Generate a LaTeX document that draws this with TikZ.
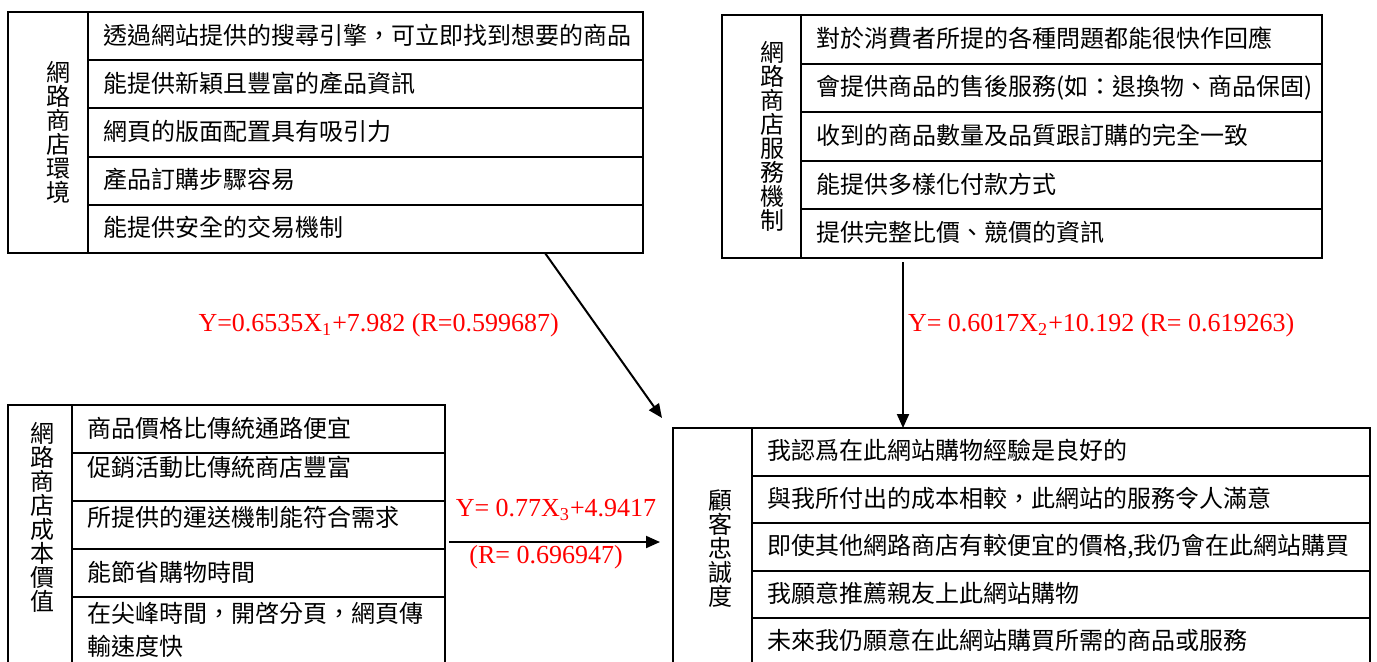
\documentclass[tikz,border=0pt]{standalone}
\usepackage{fontspec}
\setmainfont{Liberation Serif}
\newfontfamily\cjk{Noto Sans CJK TC}
\usetikzlibrary{arrows.meta,positioning}
\tikzset{
  itembox/.style = {draw, line width=1pt, outer sep=0pt, align=left, inner xsep=7.5pt, inner ysep=0pt,
                    text width=#1, text height=10pt, text depth=2pt, minimum height=24pt,
                    font=\cjk\fontsize{12pt}{14pt}\selectfont},
  sidebox/.style = {draw, line width=1pt, outer sep=0pt, align=right, inner ysep=0pt, text width=#1,
                    font=\cjk\fontsize{12pt}{12pt}\selectfont},
  link/.style    = {-{Triangle[length=7pt,width=6pt]}, line width=1pt},
  eqn/.style     = {text=red, font=\fontsize{13pt}{15pt}\selectfont},
}

\begin{document}
\begin{tikzpicture}[x=0.5pt, y=-0.5pt]
  \useasboundingbox (0,0) rectangle (1377,661);

  % Store environment
  \node[itembox=262.5pt, minimum height=24.1pt, anchor=north west] (e1) at (88,12) {透過網站提供的搜尋引擎，可立即找到想要的商品};
  \node[itembox=262.5pt, minimum height=24.1pt, below=0pt of e1] (e2) {能提供新穎且豐富的產品資訊};
  \node[itembox=262.5pt, minimum height=24.1pt, below=0pt of e2] (e3) {網頁的版面配置具有吸引力};
  \node[itembox=262.5pt, minimum height=24.1pt, below=0pt of e3] (e4) {產品訂購步驟容易};
  \node[itembox=262.5pt, minimum height=24.1pt, below=0pt of e4] (e5) {能提供安全的交易機制};
  \node[sidebox=22pt, inner xsep=9pt, minimum height=120.5pt, anchor=north east] (env) at (e1.north west) {網\\路\\商\\店\\環\\境};

  % Store service
  \node[itembox=245.5pt, minimum height=24.3pt, anchor=north west] (s1) at (801,15) {對於消費者所提的各種問題都能很快作回應};
  \node[itembox=245.5pt, minimum height=24.3pt, below=0pt of s1] (s2) {會提供商品的售後服務(如：退換物、商品保固)};
  \node[itembox=245.5pt, minimum height=24.3pt, below=0pt of s2] (s3) {收到的商品數量及品質跟訂購的完全一致};
  \node[itembox=245.5pt, minimum height=24.3pt, below=0pt of s3] (s4) {能提供多樣化付款方式};
  \node[itembox=245.5pt, minimum height=24.3pt, below=0pt of s4] (s5) {提供完整比價、競價的資訊};
  \node[sidebox=22.5pt, inner xsep=8.5pt, minimum height=121.5pt, anchor=north east] (srv) at (s1.north west) {網\\路\\商\\店\\服\\務\\機\\制};

  % Store cost value
  \node[itembox=171.5pt, anchor=north west] (c1) at (72,405) {商品價格比傳統通路便宜};
  \node[itembox=171.5pt, text depth=11pt, below=0pt of c1] (c2) {促銷活動比傳統商店豐富};
  \node[itembox=171.5pt, text depth=8.5pt, below=0pt of c2] (c3) {所提供的運送機制能符合需求};
  \node[itembox=171.5pt, below=0pt of c3] (c4) {能節省購物時間};
  \node[itembox=171.5pt, inner ysep=2.5pt, text depth=40pt, font=\cjk\fontsize{12pt}{16.5pt}\selectfont,
        below=0pt of c4] (c5) {在尖峰時間，開啓分頁，網頁傳\\輸速度快};
  \node[sidebox=15pt, inner xsep=8.5pt, inner ysep=8.5pt, text height=10pt, text depth=150pt, anchor=north east] (cst) at (c1.north west) {網\\路\\商\\店\\成\\本\\價\\值};

  % Customer loyalty
  \node[itembox=294pt, minimum height=23.75pt, anchor=north west] (f1) at (752,428) {我認爲在此網站購物經驗是良好的};
  \node[itembox=294pt, minimum height=23.75pt, below=0pt of f1] (f2) {與我所付出的成本相較，此網站的服務令人滿意};
  \node[itembox=294pt, minimum height=23.75pt, below=0pt of f2] (f3) {即使其他網路商店有較便宜的價格,我仍會在此網站購買};
  \node[itembox=294pt, minimum height=23.75pt, below=0pt of f3] (f4) {我願意推薦親友上此網站購物};
  \node[itembox=294pt, minimum height=23.75pt, below=0pt of f4] (f5) {未來我仍願意在此網站購買所需的商品或服務};
  \node[sidebox=19.5pt, inner xsep=10pt, minimum height=121pt, anchor=north east] (loy) at (f1.north west) {顧\\客\\忠\\誠\\度};

  % Regression arrows
  \coordinate (a1) at ([xshift=-49pt]e5.south east);
  \coordinate (b1) at ([shift={(-11,-10)}]loy.north west);
  \draw[link] (a1) -- (b1)
    node[eqn, pos=0.44, left=15pt] (eq1) {Y=0.6535X\textsubscript{1}+7.982 (R=0.599687)};

  \coordinate (a2) at ([shift={(102,4)}]s5.south west);
  \draw[link] (a2) -- (a2 |- loy.north)
    node[eqn, pos=0.38, right=0pt, inner xsep=2pt] (eq2) {Y= 0.6017X\textsubscript{2}+10.192 (R= 0.619263)};

  \coordinate (a3) at ([shift={(4,-7)}]c3.south east);
  \draw[link, shorten >=6.5pt] (a3) -- (a3 -| loy.west)
    node[eqn, midway, above=7pt, xshift=-2.5pt] (eq3) {Y= 0.77X\textsubscript{3}+4.9417}
    node[eqn, midway, below=-2pt, xshift=-7.5pt] (eq3r) {(R= 0.696947)};
\end{tikzpicture}
\end{document}
